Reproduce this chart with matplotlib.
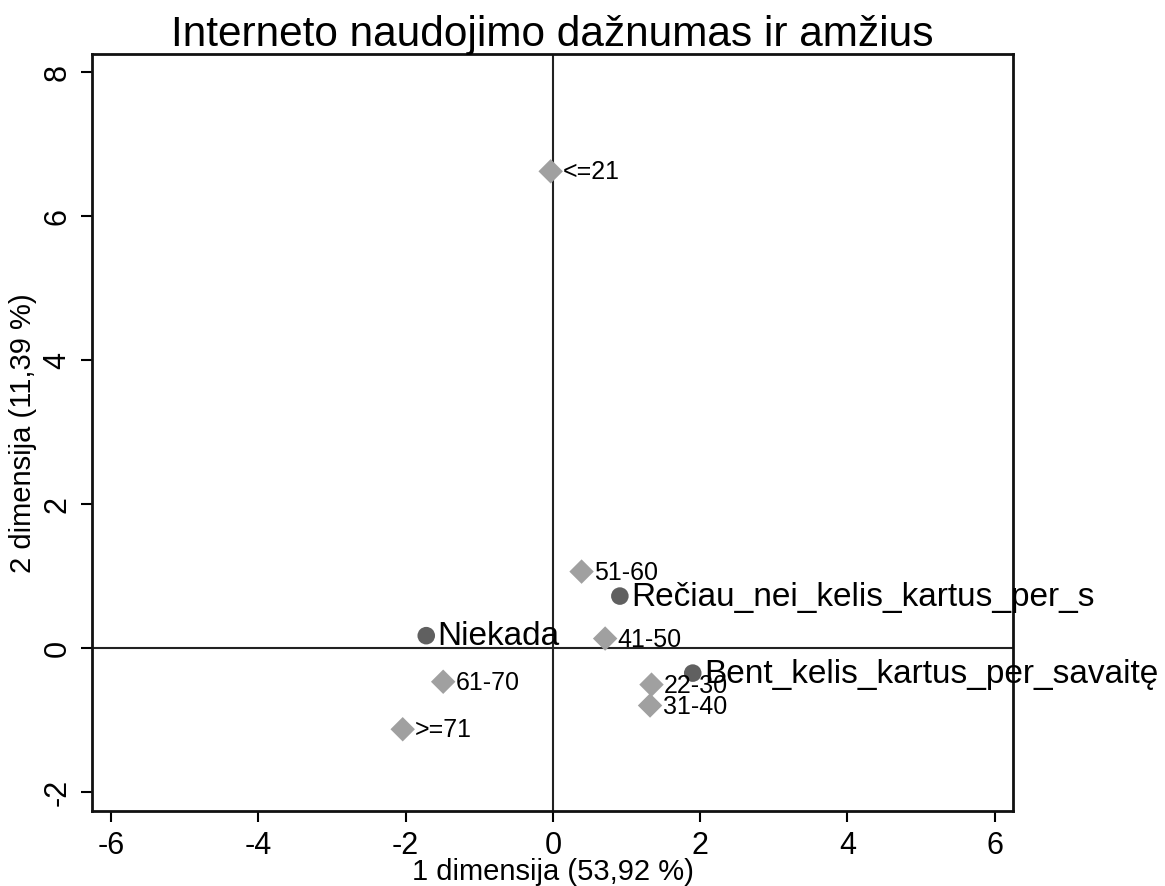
import matplotlib
matplotlib.use("Agg")
import matplotlib.pyplot as plt

plt.rcParams['font.family'] = ['Liberation Sans', 'DejaVu Sans']
plt.rcParams['axes.unicode_minus'] = False

# row points (internet use frequency)
row_labels = ["Rečiau_nei_kelis_kartus_per_s", "Niekada", "Bent_kelis_kartus_per_savaitę"]
row_x = [0.91, -1.72, 1.90]
row_y = [0.72, 0.17, -0.35]

# column points (age groups)
col_labels = ["<=21", "51-60", "41-50", "61-70", "22-30", "31-40", ">=71"]
col_x = [-0.03, 0.39, 0.71, -1.49, 1.34, 1.32, -2.04]
col_y = [6.62, 1.06, 0.13, -0.47, -0.51, -0.80, -1.13]

fig = plt.figure(figsize=(11.65, 8.87), dpi=100)
ax = fig.add_axes([0.079, 0.085, 0.7905, 0.853])

ax.axhline(0, color='#222222', lw=1.5, zorder=1)
ax.axvline(0, color='#222222', lw=1.5, zorder=1)

ax.scatter(col_x, col_y, marker='D', s=155, color='#a0a0a0', edgecolors='none', zorder=3)
ax.scatter(row_x, row_y, marker='o', s=160, color='#606060', edgecolors='none', zorder=3)

for lab, x, y in zip(col_labels, col_x, col_y):
    ax.annotate(lab, (x, y), xytext=(9, 0), textcoords='offset points',
                va='center', ha='left', fontsize=18, annotation_clip=False)
for lab, x, y in zip(row_labels, row_x, row_y):
    ax.annotate(lab, (x, y), xytext=(8, 0), textcoords='offset points',
                va='center', ha='left', fontsize=24, annotation_clip=False, zorder=4)

ax.set_xlim(-6.26, 6.25)
ax.set_ylim(-2.26, 8.25)
ax.set_xticks([-6, -4, -2, 0, 2, 4, 6])
ax.set_yticks([-2, 0, 2, 4, 6, 8])
ax.tick_params(labelsize=22, length=8, width=1.5, direction='out', pad=6)
for lbl in ax.get_yticklabels():
    lbl.set_rotation(90)
    lbl.set_va('center')
for s in ax.spines.values():
    s.set_linewidth(2)
    s.set_color('#111111')

ax.set_xlabel("1 dimensija (53,92 %)", fontsize=21, labelpad=-2)
ax.set_ylabel("2 dimensija (11,39 %)", fontsize=21, labelpad=4)
ax.set_title("Interneto naudojimo dažnumas ir amžius", fontsize=30.5, pad=4)

fig.savefig("out.png", dpi=100, facecolor='white')
